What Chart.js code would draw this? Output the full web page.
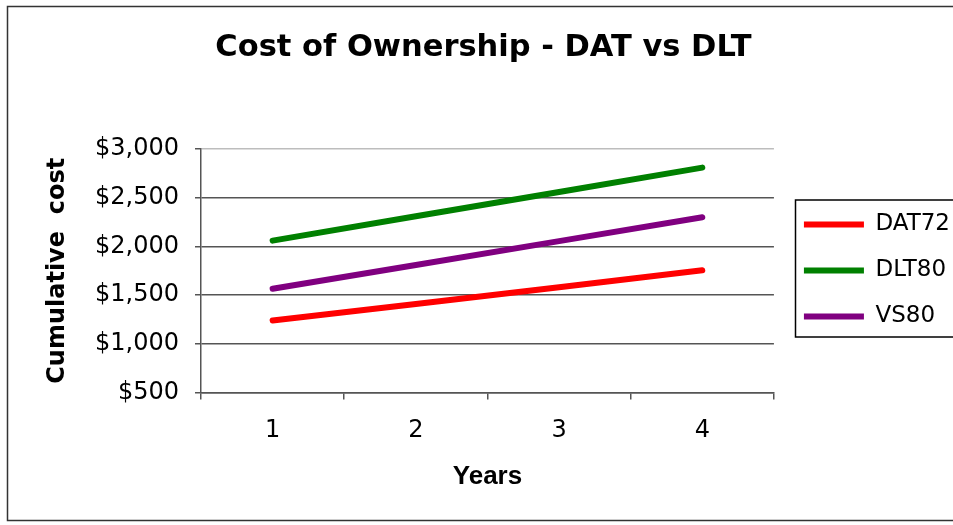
<!DOCTYPE html>
<html>
<head>
<meta charset="utf-8">
<script src="https://cdn.jsdelivr.net/npm/chart.js@4/dist/chart.umd.min.js"></script>
<style>
  body { margin: 0; background: #fff; }
  canvas { display: block; }
</style>
</head>
<body>
<canvas id="grafica" width="953" height="525"></canvas>
<script>
const years = ["1", "2", "3", "4"];
const dat72 = [1240, 1410, 1580, 1755];
const dlt80 = [2060, 2310, 2560, 2810];
const vs80 = [1565, 1810, 2055, 2300];

// frame round the whole chart + box round the legend
const marco = {
  id: "marco",
  beforeDraw(chart) {
    const ctx = chart.ctx;
    ctx.save();
    ctx.fillStyle = "#fff";
    ctx.fillRect(0, 0, chart.width, chart.height);
    ctx.strokeStyle = "#333";
    ctx.lineWidth = 1.5;
    ctx.strokeRect(7.5, 6.5, 960, 514);
    ctx.restore();
  },
  afterLayout(chart) {
    // legend sits a bit right of and below where chart.js puts it
    const lg = chart.legend;
    const w = lg.right - lg.left;
    lg.left = chart.chartArea.right + 7;
    lg.right = lg.left + w;
    lg.top += 8;
    lg.bottom += 8;
  },
  afterDraw(chart) {
    const hb = chart.legend.legendHitBoxes;
    if (!hb || !hb.length) return;
    const first = hb[0];
    const last = hb[hb.length - 1];
    const ctx = chart.ctx;
    ctx.save();
    ctx.strokeStyle = "#000";
    ctx.lineWidth = 1.5;
    const x = 795.5;
    const y = first.top - 13;
    ctx.strokeRect(x, y, 200, last.top + last.height + 9 - y);
    ctx.restore();
  }
};

const linea = { borderWidth: 6, borderCapStyle: "round", pointRadius: 0, pointHoverRadius: 0 };

new Chart(document.getElementById("grafica"), {
  type: "line",
  data: {
    labels: years,
    datasets: [
      { label: "DAT72", data: dat72, borderColor: "#ff0000", backgroundColor: "#ff0000", ...linea },
      { label: "DLT80", data: dlt80, borderColor: "#008000", backgroundColor: "#008000", ...linea },
      { label: "VS80", data: vs80, borderColor: "#800080", backgroundColor: "#800080", ...linea }
    ]
  },
  options: {
    responsive: false,
    animation: false,
    layout: { padding: { left: 14, right: 0, top: 0, bottom: 0 } },
    elements: { line: { tension: 0 } },
    plugins: {
      title: {
        display: true,
        text: "Cost of Ownership - DAT vs DLT",
        color: "#000",
        font: { family: "DejaVu Sans", size: 30.5, weight: "bold" },
        padding: { top: 30, bottom: 82.5 }
      },
      legend: {
        position: "right",
        maxWidth: 180,
        labels: {
          usePointStyle: true,
          pointStyle: "line",
          pointStyleWidth: 60,
          padding: 23,
          color: "#000",
          font: { family: "DejaVu Sans", size: 23 }
        }
      },
      tooltip: { enabled: false }
    },
    scales: {
      x: {
        offset: true,
        afterFit(scale) { scale.height = 132.5; },
        grid: {
          offset: true,
          drawOnChartArea: false,
          tickLength: 7,
          tickColor: "#555",
          lineWidth: 1.5
        },
        border: { color: "#555", width: 1.5 },
        ticks: {
          color: "#000",
          padding: 17,
          font: { family: "DejaVu Sans", size: 24 }
        },
        title: {
          display: true,
          text: "Years",
          color: "#000",
          font: { family: "Liberation Sans", size: 26, weight: "bold" },
          padding: { top: 0, bottom: 33 }
        }
      },
      y: {
        min: 500,
        max: 3000,
        afterFit(scale) { scale.width = 187; },
        grid: {
          color: c => (c.tick && c.tick.value === 3000 ? "#bdbdbd" : "#555"),
          tickColor: "#555",
          tickLength: 6,
          lineWidth: 1.5
        },
        border: { color: "#555", width: 1.5 },
        ticks: {
          stepSize: 500,
          color: "#000",
          padding: 16,
          font: { family: "DejaVu Sans", size: 24 },
          callback: v => "$" + v.toLocaleString("en-US")
        },
        title: {
          display: true,
          text: "Cumulative  cost",
          color: "#000",
          font: { family: "DejaVu Sans", size: 24, weight: "bold" },
          padding: { top: 29.6, bottom: 0 }
        }
      }
    }
  },
  plugins: [marco]
});
</script>
</body>
</html>
